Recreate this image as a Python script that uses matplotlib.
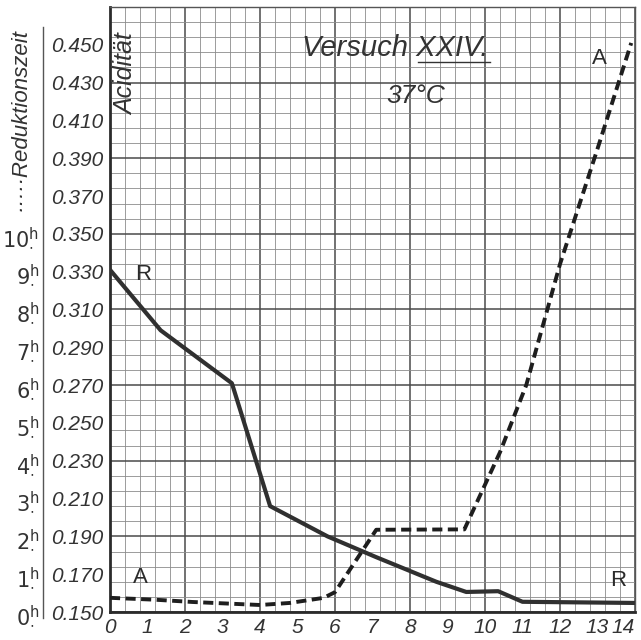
"""
Versuch XXIV, 37 C: Aciditaet (A) und Reduktionszeit (R) ueber der Zeit.
"""

import numpy as np
import matplotlib.pyplot as plt

# Acidität (A), dashed curve
acid_x = [0, 1.2, 2.2, 4.0, 4.8, 5.7, 6.0, 7.1, 9.45, 10.4, 11.1, 12.0, 13.0, 13.9]
acid_y = [0.1575, 0.1565, 0.1553, 0.1537, 0.1548, 0.1575, 0.1605, 0.1935, 0.1937,
          0.2345, 0.270, 0.334, 0.395, 0.451]

# Reduktionszeit (R) in hours, solid curve
red_x = [0, 1.35, 3.25, 4.27, 5.8, 7.1, 8.7, 9.5, 10.35, 11.0, 13.95]
red_h = [9.05, 7.45, 6.05, 2.8, 2.0, 1.45, 0.8, 0.53, 0.55, 0.27, 0.24]

x_ticks = list(range(0, 15))
acid_ticks = [0.150 + 0.020 * i for i in range(16)]
acid_labels = ["%.3f" % v for v in acid_ticks]
hour_ticks = list(range(0, 11))

FONT = ['Liberation Sans', 'DejaVu Sans']
INK = '#2b2b2b'
TXT = '#333333'

fig = plt.figure(figsize=(6.41, 6.40), dpi=100)
fig.patch.set_facecolor('white')
ax = fig.add_axes([110 / 641, 28 / 640, 525 / 641, 605 / 640])
ax.set_xlim(0, 14)
ax.set_ylim(0.150, 0.470)

# graph paper: fine lines every 0.4 / 0.008, heavier every fifth
for i, gx in enumerate(np.arange(0, 14.01, 0.4)):
    ax.axvline(gx, color='#4a4a4a' if i % 5 == 0 else '#8c8c8c',
               lw=1.1 if i % 5 == 0 else 0.6, zorder=0)
for i, gy in enumerate(np.arange(0.150, 0.4701, 0.008)):
    ax.axhline(gy, color='#4a4a4a' if i % 5 == 0 else '#8c8c8c',
               lw=1.1 if i % 5 == 0 else 0.6, zorder=0)

for side in ['top', 'right']:
    ax.spines[side].set_linewidth(1.0)
    ax.spines[side].set_color('#555555')
for side in ['left', 'bottom']:
    ax.spines[side].set_linewidth(2.0)
    ax.spines[side].set_color(INK)

ax.set_xticks(x_ticks)
xlabels = ax.set_xticklabels([str(v) for v in x_ticks], fontstyle='italic',
                             family=FONT, fontsize=15, color=TXT)
xlabels[-1].set_horizontalalignment('right')
ax.set_yticks(acid_ticks)
ax.set_yticklabels(acid_labels, fontstyle='italic', family=FONT,
                   fontsize=15, color=TXT)
ax.tick_params(length=0, pad=4)
ax.tick_params(axis='y', pad=5)

# hour scale for R on a second axis, drawn further to the left
ax2 = ax.twinx()
ax2.set_ylim(0, 16)
ax2.yaxis.set_ticks_position('left')
ax2.spines['left'].set_position(('outward', 48))
ax2.spines['left'].set_bounds(-0.16, 15.47)
ax2.spines['left'].set_linewidth(1.0)
ax2.spines['left'].set_color('#555555')
for side in ['top', 'right', 'bottom']:
    ax2.spines[side].set_visible(False)
ax2.set_yticks(hour_ticks)
ax2.set_yticklabels([r"$%d^{\mathrm{h}}_{\cdot}$" % h for h in hour_ticks],
                    fontsize=15, color=TXT)
ax2.tick_params(length=0, pad=3)

ax.plot(acid_x, acid_y, color='#1e1e1e', lw=2.8, ls=(0, (2.6, 1.4)),
        zorder=3)
ax2.plot(red_x, red_h, color='#303030', lw=3.0, solid_joinstyle='round',
         zorder=3)

ax.text(0.88, 0.3287, "R", fontsize=16, family=FONT, color=INK,
        ha='center', va='center')
ax.text(0.8, 0.168, "A", fontsize=16, family=FONT, color=INK,
        ha='center', va='center')
ax.text(13.55, 0.1665, "R", fontsize=16, family=FONT, color=INK,
        ha='center', va='center')
ax.text(13.05, 0.443, "A", fontsize=16, family=FONT, color=INK,
        ha='center', va='center')

ax.text(7.6, 0.4485, "Versuch XXIV.", fontsize=21, fontstyle='italic',
        family=FONT, color=TXT, ha='center', va='center')
ax.plot([0.587, 0.724], [0.909, 0.909], transform=ax.transAxes,
        color=TXT, lw=1.0)
ax.text(8.15, 0.423, "37°C", fontsize=19, fontstyle='italic',
        family=FONT, color=TXT, ha='center', va='center')
ax.text(0.42, 0.4345, "Acidität", fontsize=18, fontstyle='italic',
        family=FONT, color=TXT, rotation=90, ha='center', va='center')

fig.text(20 / 641, 1 - 120 / 640, "·····Reduktionszeit", fontsize=16,
         fontstyle='italic', family=FONT, color=TXT, rotation=90,
         ha='center', va='center')

fig.savefig('out.png', dpi=100)
